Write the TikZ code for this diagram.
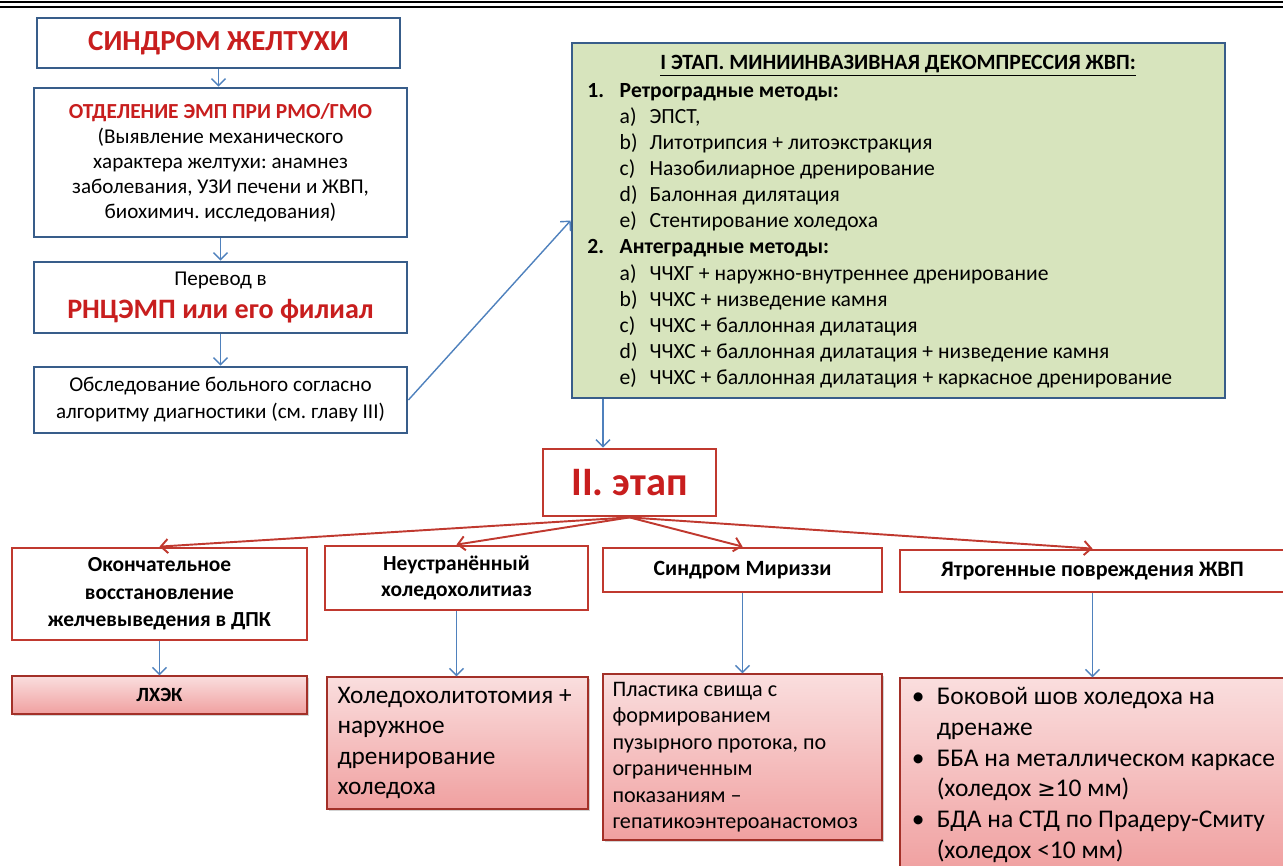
\documentclass[tikz,border=0pt]{standalone}
\usepackage{fontspec}
\setmainfont{Carlito}
\newfontfamily\symfont{DejaVu Sans}
\usepackage{xcolor}
\usetikzlibrary{arrows.meta,shadows}
\frenchspacing

\definecolor{boxblue}{HTML}{385D8A}
\definecolor{arrblue}{HTML}{4F81BD}
\definecolor{txtred}{HTML}{C81E1E}
\definecolor{linered}{HTML}{C0392F}
\definecolor{stagegreen}{HTML}{D7E4BD}
\definecolor{pinktop}{HTML}{FADEDE}
\definecolor{pinkbot}{HTML}{F0A0A0}

\newcommand{\subitm}[2]{\hspace*{18.4pt}\makebox[17pt][l]{#1}#2}
\newcommand{\mainitm}[2]{\makebox[18.4pt][l]{\bfseries #1}\textbf{#2}}

\begin{document}
\begin{tikzpicture}[x=0.02cm,y=-0.02cm,
  bluebox/.style={draw=boxblue,line width=1.6pt,fill=white,inner sep=2pt,align=center},
  redbox/.style={draw=linered,line width=1.6pt,fill=white,inner sep=2pt,align=center},
  resbox/.style={draw=linered!85!black,line width=0.8pt,top color=pinktop,bottom color=pinkbot,
    drop shadow={shadow xshift=1.2pt,shadow yshift=-1.2pt,opacity=0.35},inner sep=2pt},
  bluearr/.style={draw=arrblue,line width=0.8pt,-{Straight Barb[length=4pt,width=8pt]}},
  redarr/.style={draw=linered,line width=1.1pt,-{Straight Barb[length=4pt,width=8pt]}}]
\useasboundingbox (0,0) rectangle (1283,865);
% rule at the top of the page
\draw[line width=1.6pt] (0,2) -- (1283,2);
\draw[line width=0.7pt] (0,7) -- (1283,7);

\node[bluebox,minimum width=7.26cm,minimum height=1cm,text=txtred,font=\bfseries\fontsize{16.5}{20}\selectfont] (jaundice) at (218.5,43) {СИНДРОМ ЖЕЛТУХИ};
\node[bluebox,minimum width=7.46cm,minimum height=2.98cm,font=\fontsize{12}{14.3}\selectfont] (dept) at (220.5,162.5)
  {{\color{txtred}\bfseries\fontsize{12.2}{14.3}\selectfont ОТДЕЛЕНИЕ ЭМП ПРИ РМО/ГМО}\\(Выявление механического\\характера желтухи: анамнез\\заболевания, УЗИ печени и ЖВП,\\биохимич. исследования)};
\node[bluebox,minimum width=7.46cm,minimum height=1.42cm,font=\fontsize{12}{19}\selectfont] (transfer) at (220.5,297.5)
  {Перевод в\\{\color{txtred}\bfseries\fontsize{16}{19}\selectfont РНЦЭМП или его филиал}};
\node[bluebox,minimum width=7.46cm,minimum height=1.32cm,font=\fontsize{12}{15.4}\selectfont] (exam) at (220.5,400)
  {Обследование больного согласно\\алгоритму диагностики (см. главу III)};

\node[draw=boxblue,line width=1.6pt,fill=stagegreen,minimum width=13.06cm,minimum height=7.1cm] (stage1) at (898.5,220.5) {};
\node[font=\bfseries\fontsize{12.4}{14.8}\selectfont] (stage1title) at (898,66) {\underline{I ЭТАП. МИНИИНВАЗИВНАЯ ДЕКОМПРЕССИЯ ЖВП:}};
\node[anchor=north west,align=flush left,inner sep=0pt,font=\fontsize{12.3}{14.85}\selectfont] (stage1list) at (587,83) {%
\mainitm{1.}{Ретроградные методы:}\\
\subitm{a)}{ЭПСТ,}\\
\subitm{b)}{Литотрипсия + литоэкстракция}\\
\subitm{c)}{Назобилиарное дренирование}\\
\subitm{d)}{Балонная дилятация}\\
\subitm{e)}{Стентирование холедоха}\\
\mainitm{2.}{Антеградные методы:}\\
\subitm{a)}{ЧЧХГ + наружно-внутреннее дренирование}\\
\subitm{b)}{ЧЧХС + низведение камня}\\
\subitm{c)}{ЧЧХС + баллонная дилатация}\\
\subitm{d)}{ЧЧХС + баллонная дилатация + низведение камня}\\
\subitm{e)}{ЧЧХС + баллонная дилатация + каркасное дренирование}};

\node[redbox,minimum width=3.46cm,minimum height=1.34cm,text=txtred,font=\bfseries\fontsize{23}{25}\selectfont] (stage2) at (629.5,482.5) {II. этап};

\node[redbox,minimum width=5.9cm,minimum height=1.84cm,font=\bfseries\fontsize{12.2}{15.6}\selectfont] (restore) at (159.5,594)
  {Окончательное\\восстановление\\желчевыведения в ДПК};
\node[redbox,minimum width=5.26cm,minimum height=1.28cm,font=\bfseries\fontsize{12.2}{15}\selectfont] (stones) at (456.5,578)
  {Неустранённый\\холедохолитиаз};
\node[redbox,minimum width=5.58cm,minimum height=0.88cm,font=\bfseries\fontsize{12.4}{15}\selectfont] (mirizzi) at (742.5,570)
  {Синдром Мириззи};
\node[redbox,minimum width=7.7cm,minimum height=0.84cm,font=\bfseries\fontsize{12.6}{15}\selectfont] (injury) at (1092.5,571)
  {Ятрогенные повреждения ЖВП};

\node[resbox,minimum width=5.9cm,minimum height=0.76cm,font=\bfseries\fontsize{11.5}{15}\selectfont] (lhek) at (159.5,695) {ЛХЭК};
\node[resbox,minimum width=5.22cm,minimum height=2.64cm,text width=4.8cm,align=flush left,font=\fontsize{14.4}{17.2}\selectfont] (choledo) at (457.5,743)
  {Холедохолитотомия +\\наружное\\дренирование\\холедоха};
\node[resbox,minimum width=5.58cm,minimum height=3.32cm,text width=5.2cm,align=flush left,font=\fontsize{12.6}{15.1}\selectfont] (plasty) at (742.5,757)
  {Пластика свища с\\формированием\\пузырного протока, по\\ограниченным\\показаниям --\\гепатикоэнтероанастомоз};
\node[resbox,minimum width=7.8cm,minimum height=3.88cm,text width=7.4cm,align=flush left,font=\fontsize{14.5}{17.6}\selectfont] (suture) at (1095,775)
  {\hspace*{1pt}\makebox[14.2pt][l]{\textbullet}Боковой шов холедоха на\\\hspace*{15.2pt}дренаже\\
   \hspace*{1pt}\makebox[14.2pt][l]{\textbullet}ББА на металлическом каркасе\\\hspace*{15.2pt}(холедох {\symfont\fontsize{12.5}{14}\selectfont≥}10 мм)\\
   \hspace*{1pt}\makebox[14.2pt][l]{\textbullet}БДА на СТД по Прадеру-Смиту\\\hspace*{15.2pt}(холедох <10 мм)};

\draw[bluearr] (jaundice.south) -- (jaundice.south |- dept.north);
\draw[bluearr] (dept.south) -- (transfer.north);
\draw[bluearr] (transfer.south) -- (exam.north);
\draw[bluearr] (exam.east) -- (stage1.west);
\draw[bluearr] (stage1.south -| 603,0) -- (stage2.north -| 603,0);

\draw[redarr] (stage2.south) -- (restore.north);
\draw[redarr] (stage2.south) -- (stones.north);
\draw[redarr] (stage2.south) -- (mirizzi.north);
\draw[redarr] (stage2.south) -- (injury.north);

\draw[bluearr] (restore.south) -- (lhek.north);
\draw[bluearr] (stones.south) -- (stones.south |- choledo.north);
\draw[bluearr] (mirizzi.south) -- (mirizzi.south |- plasty.north);
\draw[bluearr] (injury.south) -- (injury.south |- suture.north);
\end{tikzpicture}
\end{document}
